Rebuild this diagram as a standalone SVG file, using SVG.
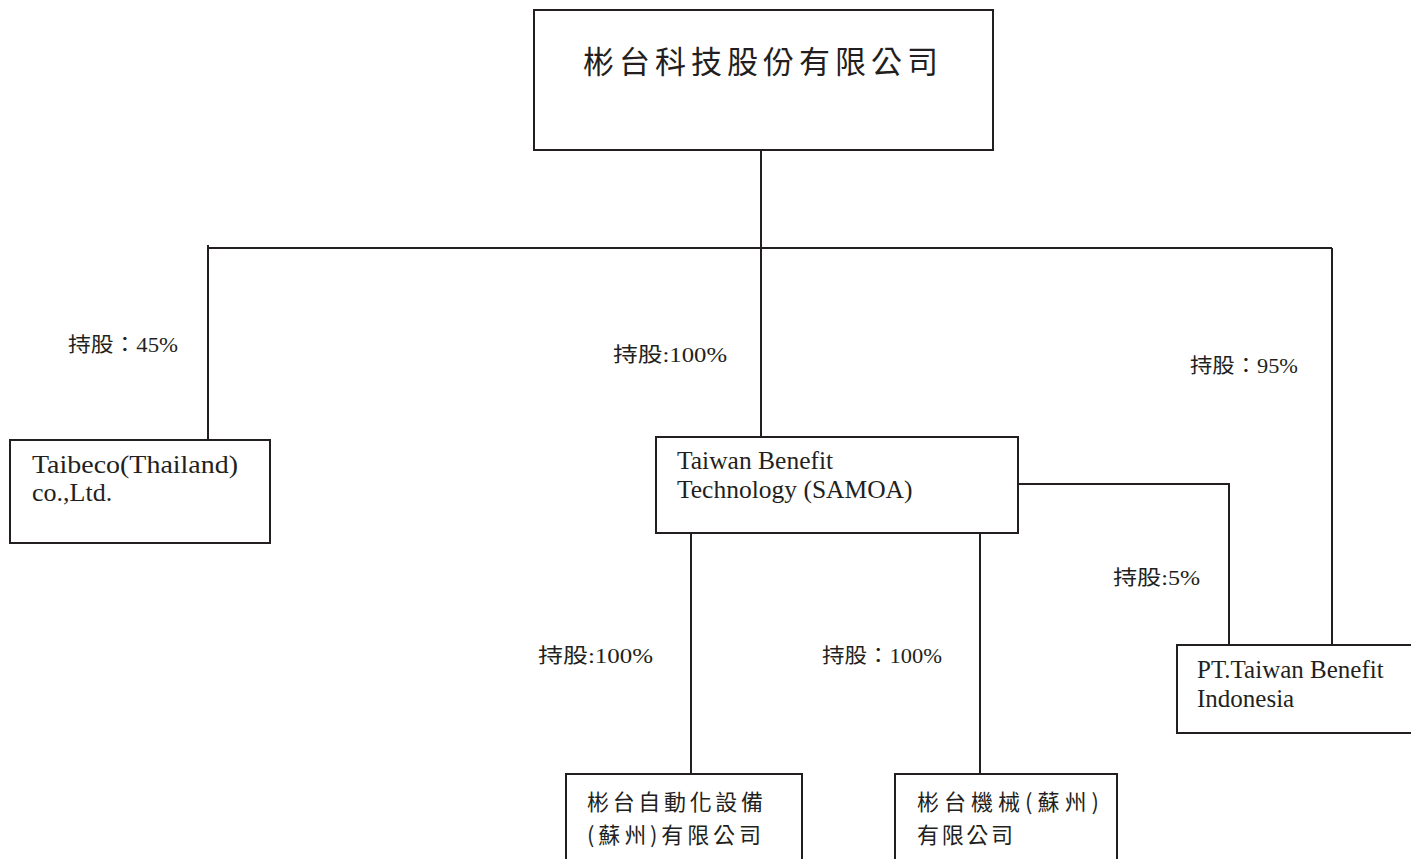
<svg xmlns="http://www.w3.org/2000/svg" width="1411" height="859" viewBox="0 0 1411 859">
<style>
.box{fill:#fff;stroke:#231f20;stroke-width:2}
.ln{fill:none;stroke:#231f20;stroke-width:2}
.en{font-family:"Liberation Serif","Noto Sans CJK TC",serif;fill:#231f20}
.cj{font-family:"Noto Sans CJK TC","Liberation Serif",serif;fill:#231f20}
.lb{font-family:"Liberation Serif","Noto Sans CJK TC",serif;font-size:20px;fill:#231f20}
</style>
<rect width="1411" height="859" fill="#fff"/>
<g id="connectors">
<path class="ln" d="M761 143V437"/>
<path class="ln" d="M208 248H1332"/>
<path class="ln" d="M208 245V440"/>
<path class="ln" d="M1332 248V645"/>
<path class="ln" d="M1018 484H1229V645"/>
<path class="ln" d="M691 533V774"/>
<path class="ln" d="M980 533V774"/>
<text class="lb" x="68" y="352" textLength="110" lengthAdjust="spacingAndGlyphs">持股：45%</text>
<text class="lb" x="613" y="362" textLength="114" lengthAdjust="spacingAndGlyphs">持股:100%</text>
<text class="lb" x="1190" y="373" textLength="108" lengthAdjust="spacingAndGlyphs">持股：95%</text>
<text class="lb" x="1113" y="585" textLength="87" lengthAdjust="spacingAndGlyphs">持股:5%</text>
<text class="lb" x="538" y="663" textLength="115" lengthAdjust="spacingAndGlyphs">持股:100%</text>
<text class="lb" x="822" y="663" textLength="120" lengthAdjust="spacingAndGlyphs">持股：100%</text>
</g>
<g id="parent">
<rect class="box" x="534" y="10" width="459" height="140"/>
<text class="cj" x="583" y="73" font-size="31" textLength="355" lengthAdjust="spacing">彬台科技股份有限公司</text>
</g>
<g id="thailand">
<rect class="box" x="10" y="440" width="260" height="103"/>
<text class="en" x="32" y="473" font-size="26" textLength="206" lengthAdjust="spacingAndGlyphs">Taibeco(Thailand)</text>
<text class="en" x="32" y="501" font-size="26">co.,Ltd.</text>
</g>
<g id="samoa">
<rect class="box" x="656" y="437" width="362" height="96"/>
<text class="en" x="677" y="469" font-size="25.5">Taiwan Benefit</text>
<text class="en" x="677" y="498" font-size="25.5">Technology (SAMOA)</text>
</g>
<g id="indonesia">
<rect class="box" x="1177" y="645" width="250" height="88"/>
<text class="en" x="1197" y="678" font-size="25">PT.Taiwan Benefit</text>
<text class="en" x="1197" y="707" font-size="25">Indonesia</text>
</g>
<g id="automation">
<rect class="box" x="566" y="774" width="236" height="100"/>
<text class="cj" x="587" y="810" font-size="22" textLength="176" lengthAdjust="spacing">彬台自動化設備</text>
<text class="cj" x="587" y="843" font-size="22" textLength="174" lengthAdjust="spacing">(蘇州)有限公司</text>
</g>
<g id="machinery">
<rect class="box" x="895" y="774" width="222" height="100"/>
<text class="cj" x="917" y="810" font-size="22" textLength="182" lengthAdjust="spacing">彬台機械(蘇州)</text>
<text class="cj" x="917" y="843" font-size="22" textLength="96" lengthAdjust="spacing">有限公司</text>
</g>
</svg>
